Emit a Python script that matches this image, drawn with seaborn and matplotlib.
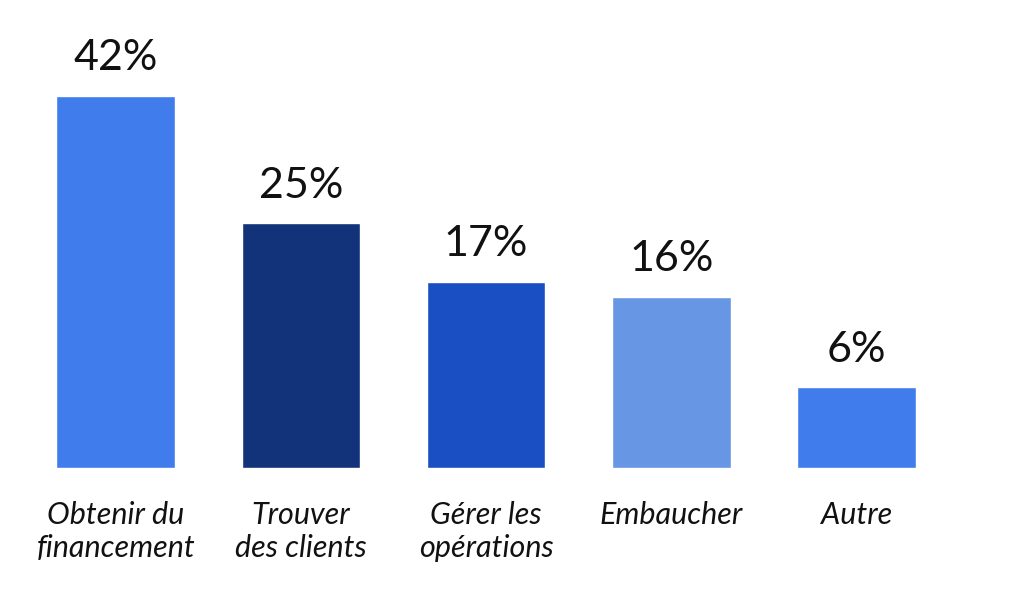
import matplotlib
matplotlib.use("Agg")
import matplotlib.pyplot as plt
import seaborn as sns
import pandas as pd

categories = ["Obtenir du\nfinancement", "Trouver\ndes clients", "Gérer les\nopérations", "Embaucher", "Autre"]
bar_heights = [42, 27.6, 21.0, 19.3, 9.1]
value_labels = ["42%", "25%", "17%", "16%", "6%"]
colors = ["#407CEC", "#12327A", "#1A4FC4", "#6797E4", "#407CEC"]

sns.set_theme(style="white")
plt.rcParams['font.family'] = ['Lato', 'DejaVu Sans']

df = pd.DataFrame({"cat": categories, "val": bar_heights})

fig = plt.figure(figsize=(10.24, 5.93), dpi=100)
ax = fig.add_axes([0.0225, 0.2108, 0.9045, 0.747])
sns.barplot(data=df, x="cat", y="val", hue="cat", palette=colors, legend=False,
            width=0.64, ax=ax, saturation=1)
ax.set_ylim(0, 50)
ax.set_xlim(-0.5, 4.5)
for i, (h, lab) in enumerate(zip(bar_heights, value_labels)):
    ax.text(i, h + 2.9, lab, ha="center", va="baseline", fontsize=31,
            fontweight="normal", color="#111111")
ax.set_xlabel("")
ax.set_ylabel("")
ax.set_yticks([])
ax.tick_params(axis="x", length=0, pad=24)
for t in ax.get_xticklabels():
    t.set_fontsize(22)
    t.set_fontstyle("italic")
    t.set_fontweight("normal")
    t.set_color("#111111")
    t.set_linespacing(1.2)
for s in ax.spines.values():
    s.set_visible(False)
fig.savefig("out.png", dpi=100, facecolor="white")
